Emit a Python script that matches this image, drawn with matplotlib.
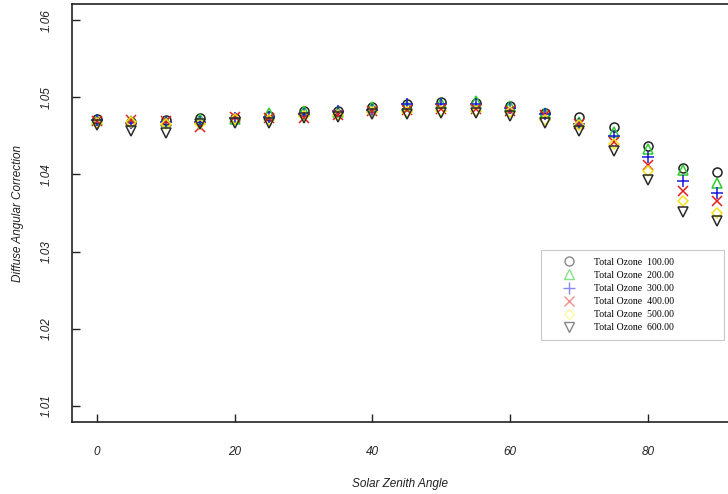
import matplotlib.pyplot as plt
from matplotlib.lines import Line2D

# solar zenith angle grid
angles = [0, 5, 10, 15, 20, 25, 30, 35, 40, 45, 50, 55, 60, 65, 70, 75, 80, 85, 90]

# diffuse angular correction per total ozone amount
ozone_100 = [1.0472, 1.0468, 1.0470, 1.0473, 1.0473, 1.0476, 1.0482, 1.0482, 1.0487, 1.0491,
             1.0494, 1.0492, 1.0489, 1.0480, 1.0475, 1.0461, 1.0437, 1.0408, 1.0403]
ozone_200 = [1.0470, 1.0469, 1.0469, 1.0472, 1.0472, 1.0480, 1.0482, 1.0481, 1.0487, 1.0489,
             1.0492, 1.0495, 1.0489, 1.0480, 1.0468, 1.0455, 1.0433, 1.0406, 1.0389]
ozone_300 = [1.0471, 1.0467, 1.0468, 1.0468, 1.0473, 1.0474, 1.0478, 1.0482, 1.0483, 1.0491,
             1.0491, 1.0491, 1.0486, 1.0478, 1.0466, 1.0450, 1.0423, 1.0391, 1.0376]
ozone_400 = [1.0469, 1.0470, 1.0469, 1.0461, 1.0474, 1.0473, 1.0473, 1.0477, 1.0482, 1.0483,
             1.0485, 1.0485, 1.0482, 1.0477, 1.0465, 1.0442, 1.0412, 1.0378, 1.0366]
ozone_500 = [1.0467, 1.0468, 1.0466, 1.0465, 1.0472, 1.0470, 1.0476, 1.0477, 1.0481, 1.0481,
             1.0482, 1.0482, 1.0481, 1.0471, 1.0464, 1.0440, 1.0404, 1.0366, 1.0350]
ozone_600 = [1.0464, 1.0456, 1.0454, 1.0466, 1.0467, 1.0467, 1.0473, 1.0475, 1.0478, 1.0479,
             1.0480, 1.0480, 1.0476, 1.0467, 1.0456, 1.0430, 1.0393, 1.0351, 1.0340]

labels = ["Total Ozone  100.00", "Total Ozone  200.00", "Total Ozone  300.00",
          "Total Ozone  400.00", "Total Ozone  500.00", "Total Ozone  600.00"]

series = [ozone_100, ozone_200, ozone_300, ozone_400, ozone_500, ozone_600]
markers = ["o", "^", "+", "x", "D", "v"]
sizes = [6.5, 7, 8, 7, 5, 7]
colors = ["#222222", "#2ecc2e", "#1a1ad8", "#e0201c", "#f2e21e", "#2a2a2a"]
legend_colors = ["#888888", "#88e088", "#8888ee", "#f09090", "#fafaa0", "#888888"]

fig = plt.figure(figsize=(7.28, 4.94), dpi=100)
ax = fig.add_axes([72 / 728, 72 / 494, 656 / 728, 418 / 494])

for vals, m, s, c in zip(series, markers, sizes, colors):
    if m in ("+", "x"):
        ax.plot(angles, vals, linestyle="none", marker=m, markersize=s,
                color=c, markeredgewidth=1.1)
    else:
        ax.plot(angles, vals, linestyle="none", marker=m, markersize=s,
                markerfacecolor="none", markeredgecolor=c, markeredgewidth=1.1)

ax.set_xlim(-3.6, 91.6)
ax.set_ylim(1.0079, 1.0621)
ax.set_xticks([0, 20, 40, 60, 80])
ax.set_yticks([1.01, 1.02, 1.03, 1.04, 1.05, 1.06])
ax.set_yticklabels(["1.01", "1.02", "1.03", "1.04", "1.05", "1.06"])

ax.spines["right"].set_visible(False)
for sp in ax.spines.values():
    sp.set_linewidth(1.2)
    sp.set_color("#222222")

ax.tick_params(direction="in", length=6, width=1.0, color="#222222")
ax.tick_params(axis="x", pad=17)
ax.tick_params(axis="y", pad=14)

tick_font = dict(family="Liberation Sans", style="italic", size=8.5, color="#222222")
for t in ax.get_xticklabels():
    t.set(**tick_font)
for t in ax.get_yticklabels():
    t.set(**tick_font)
    t.set_rotation(90)
    t.set_verticalalignment("center")

ax.set_xlabel("Solar Zenith Angle", fontfamily="Liberation Sans", style="italic",
              fontsize=8.5, labelpad=15, color="#222222")
ax.set_ylabel("Diffuse Angular Correction", fontfamily="Liberation Sans", style="italic",
              fontsize=8.5, labelpad=12, color="#222222")

handles = []
for m, s, c in zip(markers, sizes, legend_colors):
    if m in ("+", "x"):
        h = Line2D([], [], linestyle="none", marker=m, markersize=s, color=c,
                   markeredgewidth=1.0)
    else:
        h = Line2D([], [], linestyle="none", marker=m, markersize=s,
                   markerfacecolor="none", markeredgecolor=c, markeredgewidth=1.0)
    handles.append(h)

leg = ax.legend(handles, labels, loc="upper left", mode="expand",
                bbox_to_anchor=(541 / 728, 1 - 342 / 494, 183 / 728, 92 / 494),
                bbox_transform=fig.transFigure,
                prop=dict(family="Liberation Serif", size=7),
                frameon=True, fancybox=False, edgecolor="#bbbbbb",
                labelspacing=0.42, handlelength=4.2, handletextpad=0.45,
                borderpad=0.8, borderaxespad=0)
leg.get_frame().set_linewidth(0.8)

fig.savefig("out.png", dpi=100)
